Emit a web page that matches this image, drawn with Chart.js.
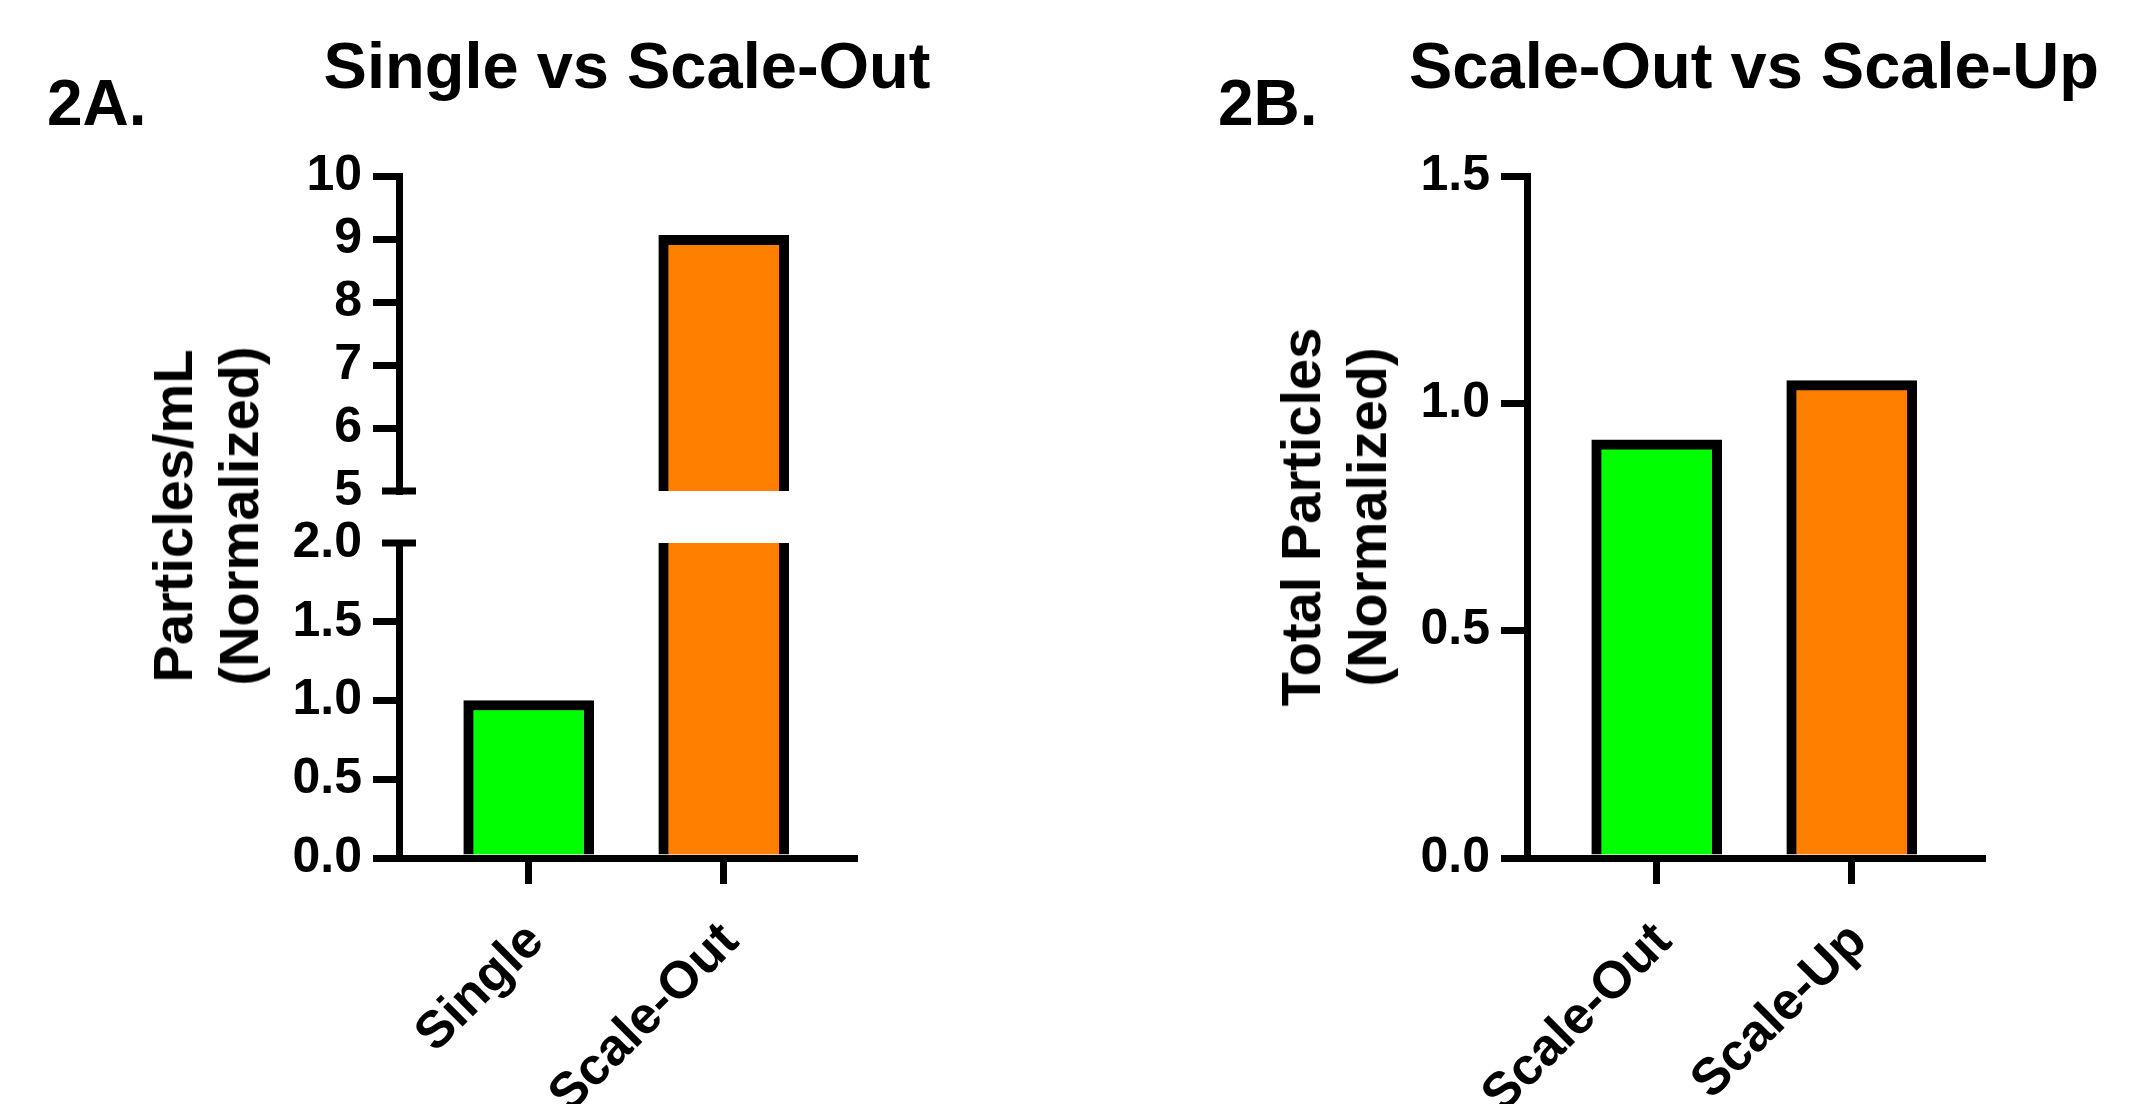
<!DOCTYPE html>
<html>
<head>
<meta charset="utf-8">
<script src="https://cdn.jsdelivr.net/npm/chart.js@4/dist/chart.umd.min.js"></script>
<style>
  html, body { margin: 0; padding: 0; background: #fff; }
  #page { position: relative; width: 2142px; height: 1104px; overflow: hidden;
          font-family: "Liberation Sans", Arial, sans-serif; font-weight: bold; color: #000; }
  canvas { position: absolute; }
  .txt { position: absolute; white-space: nowrap; line-height: 1; z-index: 2; }
  .panel { font-size: 64px; top: 71px; }
  .title { font-size: 65px; top: 33px; transform: translateX(-50%); }
  .ytitle { font-size: 56px; line-height: 66px; text-align: center;
            transform: translate(-50%, -50%) rotate(-90deg); }
</style>
</head>
<body>
<div id="page">
  <div class="txt panel" style="left:47px">2A.</div>
  <div class="txt title" style="left:627px">Single vs Scale-Out</div>
  <div class="txt ytitle" style="left:206px;top:516px">Particles/mL<br>(Normalized)</div>

  <div class="txt panel" style="left:1218px">2B.</div>
  <div class="txt title" style="left:1754px">Scale-Out vs Scale-Up</div>
  <div class="txt ytitle" style="left:1334px;top:517px">Total Particles<br>(Normalized)</div>

  <canvas id="aTop" width="1071" height="540" style="left:0;top:0"></canvas>
  <canvas id="aBottom" width="1071" height="604" style="left:0;top:500px"></canvas>
  <canvas id="b" width="1071" height="1104" style="left:1071px;top:0"></canvas>
</div>
<script>
// data
const categoriesA = ['Single', 'Scale-Out'];
const valuesA = [1.0, 9.06];
const categoriesB = ['Scale-Out', 'Scale-Up'];
const valuesB = [0.92, 1.05];
const ticksATop = [5, 6, 7, 8, 9, 10];
const ticksABottom = [0, 0.5, 1, 1.5, 2];
const ticksB = [0, 0.5, 1, 1.5];
const barColors = ['#00ff00', '#ff8000'];

(() => {
    const FONT = '"Liberation Sans", Arial, sans-serif';
    const LINE = 7;

    const toPoints = values => values.map((y, x) => ({ x, y }));

    // short cap across the y axis where it is broken
    const breakCaps = {
        id: 'breakCaps',
        afterDraw(chart, args, opts) {
            if (opts.value === undefined) return;
            const { ctx, chartArea } = chart;
            const y = chart.scales.y.getPixelForValue(opts.value);
            ctx.save();
            ctx.strokeStyle = '#000';
            ctx.lineWidth = LINE;
            ctx.beginPath();
            ctx.moveTo(chartArea.left - 17, y);
            ctx.lineTo(chartArea.left + 17, y);
            ctx.stroke();
            ctx.restore();
        }
    };

    const makeChart = (id, cfg) => new Chart(document.getElementById(id), {
        type: 'bar',
        data: {
            datasets: [{
                data: toPoints(cfg.values),
                backgroundColor: barColors,
                borderColor: '#000',
                borderWidth: 10,
                borderSkipped: 'start',
                barThickness: 130,
                clip: 0
            }]
        },
        options: {
            responsive: false,
            animation: false,
            devicePixelRatio: 1,
            layout: { padding: cfg.padding },
            plugins: {
                legend: { display: false },
                tooltip: { enabled: false },
                breakCaps: { value: cfg.breakAt }
            },
            scales: {
                x: {
                    type: 'linear',
                    min: -0.665,
                    max: 1.668,
                    offset: false,
                    display: cfg.showX,
                    afterBuildTicks: s => { s.ticks = cfg.categories.map((c, i) => ({ value: i })); },
                    afterFit: s => { s.height = cfg.showX ? 246 : 0; },
                    grid: { offset: false, drawOnChartArea: false, tickLength: 26, lineWidth: LINE, color: '#000' },
                    border: { width: LINE, color: '#000' },
                    ticks: {
                        color: '#000',
                        font: { family: FONT, size: 52, weight: 'bold' },
                        minRotation: 45,
                        maxRotation: 45,
                        padding: 27,
                        labelOffset: 7,
                        callback: v => cfg.categories[v]
                    }
                },
                y: {
                    min: cfg.ticks[0],
                    max: cfg.ticks[cfg.ticks.length - 1],
                    afterBuildTicks: s => { s.ticks = cfg.ticks.map(value => ({ value })); },
                    afterFit: s => { s.width = cfg.yWidth; },
                    grid: {
                        drawOnChartArea: false,
                        tickLength: 26,
                        lineWidth: LINE,
                        color: c => (c.tick && c.tick.value === cfg.breakAt) ? 'rgba(0,0,0,0)' : '#000'
                    },
                    border: { width: LINE, color: '#000' },
                    ticks: {
                        color: '#000',
                        font: { family: FONT, size: 50, weight: 'bold' },
                        padding: 11,
                        callback: cfg.format
                    }
                }
            }
        },
        plugins: [breakCaps]
    });

    // 2A upper part (5 - 10)
    makeChart('aTop', {
        values: valuesA, categories: categoriesA, ticks: ticksATop,
        showX: false, breakAt: 5, yWidth: 399,
        padding: { top: 176, right: 217, bottom: 49, left: 0 },
        format: v => String(v)
    });

    // 2A lower part (0 - 2)
    makeChart('aBottom', {
        values: valuesA, categories: categoriesA, ticks: ticksABottom,
        showX: true, breakAt: 2, yWidth: 399,
        padding: { top: 43, right: 217, bottom: 0, left: 0 },
        format: v => v.toFixed(1)
    });

    // 2B
    makeChart('b', {
        values: valuesB, categories: categoriesB, ticks: ticksB,
        showX: true, breakAt: undefined, yWidth: 456,
        padding: { top: 176, right: 160, bottom: 0, left: 0 },
        format: v => v.toFixed(1)
    });
})();
</script>
</body>
</html>
